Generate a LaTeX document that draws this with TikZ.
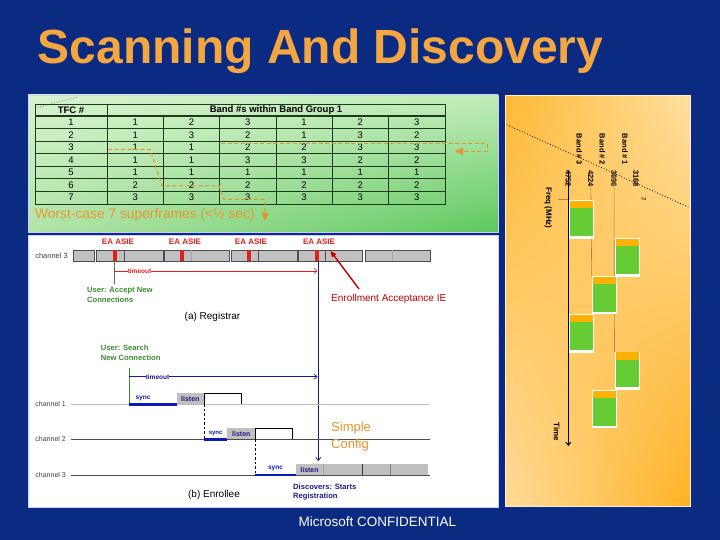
\documentclass[tikz,border=0pt]{standalone}
\usepackage{fontspec}
\setmainfont{Liberation Sans}
\usetikzlibrary{arrows.meta,shadings}
\definecolor{bgA}{HTML}{0B2B82}
\definecolor{bgB}{HTML}{1D4CA4}
\definecolor{titleor}{HTML}{F4A640}
\definecolor{gUL}{HTML}{D6F3CE}
\definecolor{gUR}{HTML}{C2EDBA}
\definecolor{gLL}{HTML}{B2E4A8}
\definecolor{gLR}{HTML}{5EC85E}
\definecolor{tbl}{HTML}{1E3A1E}
\definecolor{dashor}{HTML}{E8902A}
\definecolor{worst}{HTML}{E8962E}
\definecolor{eared}{HTML}{E0201C}
\definecolor{darkred}{HTML}{C00000}
\definecolor{usergreen}{HTML}{3C8C2C}
\definecolor{navy}{HTML}{1C1C84}
\definecolor{syncblue}{HTML}{0A18B8}
\definecolor{boxgray}{HTML}{C0C0C0}
\definecolor{slotor}{HTML}{FFB000}
\definecolor{slotgr}{HTML}{66CC33}
\definecolor{axisgray}{HTML}{A08850}
\definecolor{oUL}{HTML}{FFB935}
\definecolor{oUR}{HTML}{FFDFA2}
\definecolor{oLL}{HTML}{FFDB9A}
\definecolor{oLR}{HTML}{FFB224}
\tikzset{
  cell/.style={inner sep=0, font=\fontsize{9.5}{10}\selectfont},
  hdr/.style={inner sep=0, font=\fontsize{9.5}{10}\selectfont\bfseries},
  tblline/.style={draw=tbl, line width=0.8pt},
  ordash/.style={draw=dashor, dashed, dash pattern=on 4pt off 2.5pt, line width=1pt},
  regbox/.style={fill=boxgray, draw=black!70, line width=0.6pt},
  redmark/.style={fill=eared, draw=none},
  ealabel/.style={inner sep=0, text=eared, font=\fontsize{8}{9}\selectfont\bfseries},
  chlabel/.style={inner sep=0, anchor=east, text=black!75, font=\fontsize{7}{8}\selectfont},
  userlabel/.style={inner sep=0, anchor=north west, align=left, text=usergreen, font=\fontsize{7.6}{9.5}\selectfont\bfseries},
  navylabel/.style={inner sep=0, anchor=north west, align=left, text=navy, font=\fontsize{7.6}{9.5}\selectfont\bfseries},
  caption/.style={inner sep=0, font=\fontsize{10}{12}\selectfont},
  smalltxt/.style={inner sep=0, font=\fontsize{6.5}{7}\selectfont\bfseries},
  syncbar/.style={draw=syncblue, line width=2.6pt},
  listenbox/.style={fill=boxgray, draw=none},
  rot/.style={inner sep=0, rotate=-90, font=\fontsize{7.5}{8}\selectfont\bfseries},
}
\begin{document}
\begin{tikzpicture}[x=1pt,y=-1pt]
\useasboundingbox (0,0) rectangle (720,540);
% background
\shade[top color=bgA, middle color=bgB, bottom color=bgA] (0,0) rectangle (720,540);
% title
\node[inner sep=0, anchor=base west, text=titleor, font=\fontsize{48}{50}\selectfont\bfseries] (title) at (37.5,64) {Scanning And Discovery};

% ===== green panel with table =====
\shade[upper left=gUL, upper right=gUR, lower left=gLL, lower right=gLR] (28,95) rectangle (498,232);
\draw[blue!20!white, line width=0.8pt] (28,95) rectangle (498,232);
\draw[black!55, dotted, line width=0.8pt] (35,108) -- (78,97);
% table lines
\draw[tblline] (35,104.7) rectangle (445,204);
\foreach \k in {0,...,6} \draw[tblline] (35,{116+12.571*\k}) -- (445,{116+12.571*\k});
\draw[draw=tbl, line width=1.4pt] (35,116) -- (445,116);
\draw[tblline] (107,104.7) -- (107,204);
\foreach \k in {1,...,5} \draw[tblline] ({107+56.3*\k},116) -- ({107+56.3*\k},204);
% header
\node[hdr] (tfc) at (71,110.4) {TFC \#};
\node[hdr] (bands) at (276,110.4) {Band \#s within Band Group 1};
% body
\foreach \row [count=\i] in {{1,2,3,1,2,3},{1,3,2,1,3,2},{1,1,2,2,3,3},{1,1,3,3,2,2},{1,1,1,1,1,1},{2,2,2,2,2,2},{3,3,3,3,3,3}} {
  \node[cell] (t\i) at (71,{116+12.571*(\i-0.5)}) {\i};
  \foreach \v [count=\j] in \row {
    \node[cell] (c\i-\j) at ({107+56.3*(\j-0.5)},{116+12.571*(\i-0.5)}) {\v};
  }
}
% orange dashed paths
\draw[ordash] (108,149.3) -- (150,149.3) -- (162,186) -- (219,186) -- (224,199.3) -- (265,199.3) -- (265,214);
\fill[dashor] (261.5,213) -- (268.5,213) -- (265,221) -- cycle;
\draw[ordash] (221,143.7) -- (487,143.7) -- (487,151.3) -- (462,151.3);
\fill[dashor] (455,151.3) -- (463,147.8) -- (463,154.8) -- cycle;
% worst-case text
\node[inner sep=0, anchor=west, text=worst, font=\fontsize{13.8}{15}\selectfont] (worst) at (35,215.3) {Worst-case 7 superframes (<½ sec)};

% ===== white panel =====
\fill[white] (28,235) rectangle (498,507);
\draw[blue!20!white, line width=0.8pt] (28,235) rectangle (498,507);

% registrar
\node[ealabel] (ea1) at (118,242) {EA ASIE};
\node[ealabel] (ea2) at (185,242) {EA ASIE};
\node[ealabel] (ea3) at (251,242) {EA ASIE};
\node[ealabel] (ea4) at (319,242) {EA ASIE};
\node[chlabel, font=\fontsize{7.5}{8}\selectfont] (rch3) at (68,255.8) {channel 3};
\draw[regbox] (73,250.3) rectangle (94.7,261.3);
\draw[regbox] (96.3,250.3) rectangle (163,261.3);
\draw[regbox] (164.7,250.3) rectangle (229.7,261.3);
\draw[regbox] (231.3,250.3) rectangle (297,261.3);
\draw[regbox] (298.5,250.3) rectangle (362.3,261.3);
\draw[regbox] (365.7,250.3) rectangle (430.7,261.3);
\draw[black!70, line width=0.6pt] (124.7,250.3) -- (124.7,261.3);
\draw[black!35, line width=0.6pt] (191.3,250.3) -- (191.3,261.3);
\draw[black!70, line width=0.6pt] (258,250.3) -- (258,261.3);
\draw[black!70, line width=0.6pt] (325,250.3) -- (325,261.3);
\draw[black!35, line width=0.6pt] (392.7,250.3) -- (392.7,261.3);
\fill[redmark] (113.3,250.3) rectangle (117.3,261.3);
\fill[redmark] (180.3,250.3) rectangle (184.3,261.3);
\fill[redmark] (246.5,250.3) rectangle (250.5,261.3);
\fill[redmark] (314.5,250.3) rectangle (318.5,261.3);
\coordinate (rgTop) at (114,261.3);
\coordinate (rgBot) at (114,283.7);
\draw[usergreen, line width=0.8pt] (rgTop) -- (rgBot);
\node[smalltxt, text=eared] (rto) at (139.5,271) {timeout};
\coordinate (rtoA) at (114,271);
\coordinate (rtoB) at (317.5,271);
\draw[eared, line width=0.6pt] (rtoA) -- (rto.west);
\draw[eared, line width=0.6pt, -{Straight Barb[length=3pt,width=5pt]}] (rto.east) -- (rtoB);
\coordinate (navyTop) at (318.3,261.3);
\coordinate (navyBot) at (318.3,461);
\draw[navy, line width=0.8pt, -{Straight Barb[length=3pt,width=5pt]}] (navyTop) -- (navyBot);
\node[userlabel] (accept) at (87,287.5) {User: Accept New\\Connections};
\node[caption] (areg) at (212.5,317) {(a) Registrar};
\node[inner sep=0, anchor=west, text=darkred, font=\fontsize{10}{12}\selectfont] (enroll) at (331,298.5) {Enrollment Acceptance IE};
\draw[darkred, line width=1.4pt, -{Triangle[length=6pt,width=5pt]}] (359,289) -- (330.5,251);

% enrollee
\node[userlabel] (search) at (100.7,345) {User: Search\\New Connection};
\coordinate (egTop) at (129,368.3);
\coordinate (egBot) at (129,405.5);
\draw[usergreen, line width=0.8pt] (egTop) -- (egBot);
\node[smalltxt, text=navy] (eto) at (157.5,376.7) {timeout};
\coordinate (etoA) at (129,376.7);
\coordinate (etoB) at (317.5,376.7);
\draw[syncblue!70!navy, line width=0.6pt] (etoA) -- (eto.west);
\draw[syncblue!70!navy, line width=0.6pt, -{Straight Barb[length=3pt,width=5pt]}] (eto.east) -- (etoB);

\node[chlabel] (ech1) at (66,404) {channel 1};
\node[chlabel] (ech2) at (66,439) {channel 2};
\node[chlabel] (ech3) at (66,474.5) {channel 3};
\draw[black!25, line width=0.7pt] (71,404.3) -- (430,404.3);
\draw[black!70, line width=0.7pt] (71,439.3) -- (430,439.3);
\draw[black!70, line width=0.7pt] (71,475) -- (430,475);
% channel 1
\fill[listenbox] (176.7,393.3) rectangle (204,404.3);
\draw[black, line width=0.6pt] (204,404.3) -- (204,393.3) -- (241.7,393.3) -- (241.7,404.3);
\draw[syncbar] (129,404.3) -- (176.7,404.3);
\node[smalltxt, text=syncblue] (s1) at (143,398.5) {sync};
\node[smalltxt, text=navy, font=\fontsize{7}{8}\selectfont\bfseries] (l1) at (190.3,398.8) {listen};
% channel 2
\draw[black, dashed, dash pattern=on 2.5pt off 2pt, line width=0.6pt] (204,404.3) -- (204,439.3);
\fill[listenbox] (227.3,428.3) rectangle (255.3,439.3);
\draw[black, line width=0.6pt] (255.3,439.3) -- (255.3,428.3) -- (292.3,428.3) -- (292.3,439.3);
\draw[syncbar] (204,439.3) -- (227.3,439.3);
\node[smalltxt, text=syncblue, font=\fontsize{6}{7}\selectfont\bfseries] (s2) at (215.6,433.3) {sync};
\node[smalltxt, text=navy, font=\fontsize{7}{8}\selectfont\bfseries] (l2) at (241.3,433.8) {listen};
% channel 3
\draw[black, dashed, dash pattern=on 2.5pt off 2pt, line width=0.6pt] (255.3,439.3) -- (255.3,475);
\fill[listenbox] (296,464.3) rectangle (428.3,475);
\draw[black!80, line width=0.9pt] (362.5,464.3) -- (362.5,475);
\draw[black!50, line width=0.6pt] (390.5,464.3) -- (390.5,475);
\draw[black!35, line width=0.5pt] (323.3,464.3) -- (323.3,475);
\draw[syncbar] (255.3,475) -- (296,475);
\node[smalltxt, text=syncblue] (s3) at (275.5,468.5) {sync};
\node[smalltxt, text=navy, font=\fontsize{7}{8}\selectfont\bfseries] (l3) at (309.5,469.5) {listen};
\node[inner sep=0, anchor=north west, align=left, text=dashor, font=\fontsize{13}{17}\selectfont] (simple) at (331,422) {Simple\\Config};
\node[navylabel] (disc) at (293,483.5) {Discovers: Starts\\Registration};
\node[caption] (benr) at (214,495) {(b) Enrollee};

% ===== right panel =====
\shade[upper left=oUL, upper right=oUR, lower left=oLL, lower right=oLR] (505,96) rectangle (690,506);
\draw[white!85!orange, line width=1pt] (505,96) rectangle (690,506);
\draw[black, dotted, line width=0.8pt] (506.7,124.7) -- (688.3,207);
\node[rot] (band1) at (625,149.5) {Band \# 1};
\node[rot] (band2) at (602.3,149.5) {Band \# 2};
\node[rot] (band3) at (579.3,149.5) {Band \# 3};
\node[rot] (f3168) at (636,178.5) {3168};
\node[rot] (f3696) at (614,178.5) {3696};
\node[rot] (f4224) at (590.7,178.5) {4224};
\node[rot] (f4752) at (568.3,178.5) {4752};
\node[rot, font=\fontsize{6}{7}\selectfont] (two) at (644,198.7) {2};
\node[rot, font=\fontsize{8}{9}\selectfont\bfseries] (freq) at (548.3,208) {Freq (MHz)};
\node[rot, font=\fontsize{8}{9}\selectfont\bfseries] (timelbl) at (556.7,432) {Time};
\draw[axisgray, line width=0.6pt] (f4224.west) -- (591.7,276);
\draw[axisgray, line width=0.6pt] (f3696.west) -- (614.5,352);
\draw[axisgray, line width=0.6pt] (558,199.5) -- (569,199.5);
\draw[black, line width=1pt, -{Straight Barb[length=3pt,width=5pt]}] (f4752.west) -- (568.3,446);
\foreach \sx/\sy [count=\n] in {569/200.3, 615/238.3, 592.3/276, 569/314.3, 615/351.7, 592.3/390} {
  \fill[white] (\sx,\sy) rectangle ({\sx+24.5},{\sy+38.3});
  \fill[slotor] ({\sx+0.6},{\sy+0.6}) rectangle ({\sx+23.9},{\sy+7.8});
  \fill[slotgr] ({\sx+0.6},{\sy+7.8}) rectangle ({\sx+23.9},{\sy+35.5});
}

% footer
\node[inner sep=0, text=white, font=\fontsize{13.5}{15}\selectfont] (footer) at (377.5,522) {Microsoft CONFIDENTIAL};
\end{tikzpicture}
\end{document}
